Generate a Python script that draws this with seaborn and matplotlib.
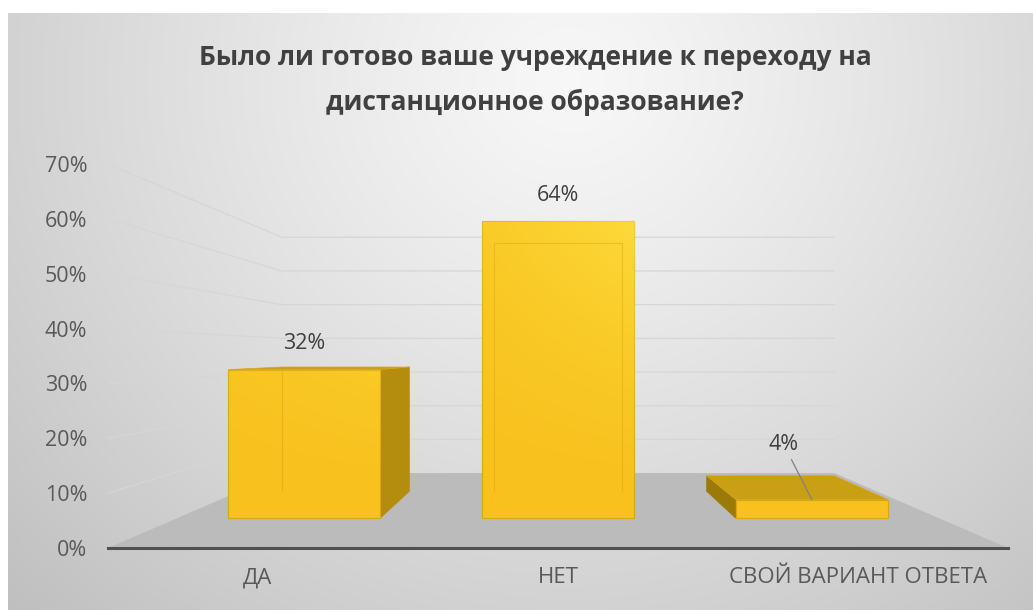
import numpy as np
import pandas as pd
import matplotlib
matplotlib.use("Agg")
import matplotlib.pyplot as plt
from matplotlib.patches import Polygon
from matplotlib.transforms import Affine2D
from matplotlib.ticker import FuncFormatter
import seaborn as sns

# ---- data -------------------------------------------------------------
categories = ["ДА", "НЕТ", "СВОЙ ВАРИАНТ ОТВЕТА"]
shares = [32, 64, 4]                      # percent of answers
y_ticks = [0, 10, 20, 30, 40, 50, 60, 70]
title_lines = ["Было ли готово ваше учреждение к переходу на",
               "дистанционное образование?"]

# ---- style ------------------------------------------------------------
sns.set_theme(style="white")
plt.rcParams["font.family"] = ["Open Sans", "DejaVu Sans"]

TEXT = "#404040"
AXIS_TEXT = "#595959"
GOLD = "#F8C11D"
GOLD_EDGE = "#D9A616"
GOLD_SIDE = "#B48C0E"
GOLD_TOP = "#C9A013"
GOLD_SIDE_DARK = "#9C7A08"
FLOOR = "#BBBBBB"
GRID = "#D6D6D6"

W, H, DPI = 1033, 610, 100
fig = plt.figure(figsize=(W / DPI, H / DPI), dpi=DPI, facecolor="white")

# soft radial grey backdrop with a thin white margin on top and left
bg = fig.add_axes([0, 0, 1, 1], zorder=-10)
yy, xx = np.mgrid[0:H, 0:W]
d = np.sqrt(((xx - 570) / 640.0) ** 2 + ((yy - 80) / 600.0) ** 2)
g = 0.97 - 0.17 * np.clip(d, 0, 1.3) ** 1.2
backdrop = np.dstack([g, g, g])
backdrop[:13, :, :] = 1.0
backdrop[:, :8, :] = 1.0
bg.imshow(backdrop, aspect="auto", interpolation="bilinear")
bg.set_axis_off()

# ---- plot area: front plane of the 3-D box -----------------------------
ax = fig.add_axes([108 / W, (H - 548) / H, 900 / W, 384 / H])
ax.patch.set_alpha(0)

df = pd.DataFrame({"answer": categories, "share": shares})
sns.barplot(data=df, x="answer", y="share", ax=ax, width=0.6, color=GOLD,
            saturation=1, errorbar=None, edgecolor=GOLD_EDGE, linewidth=0.8,
            zorder=5)
bars = list(ax.patches)

ax.set_xlim(-0.5, 2.5)
ax.set_ylim(y_ticks[0], y_ticks[-1])
ax.set_yticks(y_ticks)
ax.yaxis.set_major_formatter(FuncFormatter(lambda v, _: f"{v:.0f}%"))
ax.set_xlabel("")
ax.set_ylabel("")
ax.tick_params(axis="y", length=0, pad=15, labelsize=15.5, labelcolor=AXIS_TEXT)
ax.tick_params(axis="x", length=0, pad=14, labelsize=16, labelcolor=AXIS_TEXT)
for side in ("left", "right", "top"):
    ax.spines[side].set_visible(False)
ax.spines["bottom"].set_color("#505050")
ax.spines["bottom"].set_linewidth(2.2)
ax.spines["bottom"].set_zorder(3)

# ---- one-point perspective -------------------------------------------
VX, VY = 1.0, 35.4          # vanishing point in data units
T_FRONT, T_BACK, T_WALL = 0.154, 0.292, 0.386   # depths of bar faces and back wall


def proj(x, y, t):
    return VX + (1 - t) * (x - VX), VY + (1 - t) * (y - VY)


def depth(t):
    return Affine2D().translate(-VX, -VY).scale(1 - t).translate(VX, VY)


x_lo, x_hi = ax.get_xlim()

# floor
floor = Polygon([proj(x_lo, 0, 0), proj(x_hi, 0, 0),
                 proj(x_hi, 0, T_WALL), proj(x_lo, 0, T_WALL)],
                closed=True, facecolor=FLOOR, edgecolor="none",
                zorder=1, clip_on=False)
ax.add_patch(floor)

# gridlines on the left wall and the back wall
for v in y_ticks[1:]:
    pts = np.array([proj(x_lo, v, 0), proj(x_lo, v, T_WALL), proj(x_hi, v, T_WALL)])
    ax.plot(pts[:, 0], pts[:, 1], color=GRID, lw=0.9, zorder=0.5, clip_on=False)

# bars: push the seaborn rectangles back to the front-face depth and add the 3-D faces
for p in bars:
    x0, w, h = p.get_x(), p.get_width(), p.get_height()
    x1 = x0 + w
    xc = x0 + w / 2
    p.set_transform(depth(T_FRONT) + ax.transData)
    p.set_clip_on(False)

    if xc < VX - 1e-6:
        side = [proj(x1, 0, T_FRONT), proj(x1, h, T_FRONT), proj(x1, h, T_BACK), proj(x1, 0, T_BACK)]
        ax.add_patch(Polygon(side, closed=True, facecolor=GOLD_SIDE, edgecolor=GOLD_SIDE,
                             lw=0.5, zorder=4, clip_on=False))
    elif xc > VX + 1e-6:
        side = [proj(x0, 0, T_FRONT), proj(x0, h, T_FRONT), proj(x0, h, T_BACK), proj(x0, 0, T_BACK)]
        ax.add_patch(Polygon(side, closed=True, facecolor=GOLD_SIDE_DARK, edgecolor=GOLD_SIDE_DARK,
                             lw=0.5, zorder=4, clip_on=False))
    if h < VY:
        top = [proj(x0, h, T_FRONT), proj(x1, h, T_FRONT), proj(x1, h, T_BACK), proj(x0, h, T_BACK)]
        ax.add_patch(Polygon(top, closed=True, facecolor=GOLD_TOP, edgecolor=GOLD_EDGE,
                             lw=0.5, zorder=4.5, clip_on=False))

    # light sheen on the front face, brighter towards the upper right
    n = 64
    fy, fx = np.mgrid[0:n, 0:n] / (n - 1)
    level = (fy * h / y_ticks[-1]) ** 1.5
    alpha = np.clip(0.7 * level * (0.4 + 0.6 * fx), 0, 1)
    sheen = np.zeros((n, n, 4))
    sheen[..., 0], sheen[..., 1], sheen[..., 2] = 1.0, 0.92, 0.30
    sheen[..., 3] = alpha
    lx, by = proj(x0, 0, T_FRONT)
    rx, ty = proj(x1, h, T_FRONT)
    im = ax.imshow(sheen, extent=(lx, rx, by, ty), origin="lower", aspect="auto",
                   interpolation="bilinear", zorder=5.5)
    im.set_clip_path(p)

    # back edges showing faintly through the front face (left, top, right)
    back = np.array([proj(x0, 0, T_BACK), proj(x0, h, T_BACK),
                     proj(x1, h, T_BACK), proj(x1, 0, T_BACK)])
    ln, = ax.plot(back[:, 0], back[:, 1], color="#D29E12", lw=0.8, alpha=0.4, zorder=6)
    ln.set_clip_path(p)

ax.set_xlim(x_lo, x_hi)
ax.set_ylim(y_ticks[0], y_ticks[-1])

# value labels
label_offsets = {"СВОЙ ВАРИАНТ ОТВЕТА": (-28, 55)}
for p, cat, v in zip(bars, categories, shares):
    xc = p.get_x() + p.get_width() / 2
    dx, dy = label_offsets.get(cat, (0, 26))
    kw = {}
    if cat in label_offsets:
        kw["arrowprops"] = dict(arrowstyle="-", color="#808080", lw=0.9,
                                shrinkA=1, shrinkB=0)
    ax.annotate(f"{v}%", xy=proj(xc, p.get_height(), T_FRONT), xytext=(dx, dy),
                textcoords="offset pixels", ha="center", va="center",
                fontsize=15.5, color=TEXT, zorder=8, annotation_clip=False, **kw)

# title
fig.text(535 / W, 1 - 65 / H, title_lines[0], ha="center", va="baseline",
         fontsize=19, fontweight="bold", color=TEXT)
fig.text(535 / W, 1 - 110 / H, title_lines[1], ha="center", va="baseline",
         fontsize=19, fontweight="bold", color=TEXT)

fig.savefig("out.png", dpi=DPI, facecolor="white")
